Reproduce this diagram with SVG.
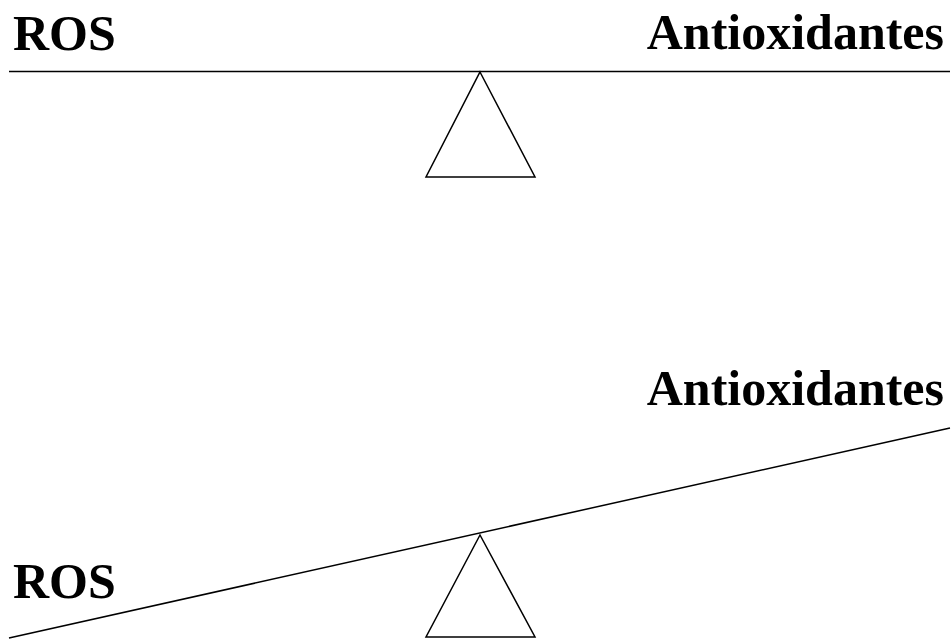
<svg xmlns="http://www.w3.org/2000/svg" width="951" height="640" viewBox="0 0 951 640">
<style>
.t{font-family:"Liberation Serif","Times New Roman",serif;font-weight:bold;font-size:50px;fill:#000}
.s{fill:none;stroke:#000;stroke-width:1.5}
</style>
<rect width="951" height="640" fill="#fff"/>
<g id="top-balance">
<text class="t" x="13" y="50">ROS</text>
<text class="t" x="944" y="49" text-anchor="end">Antioxidantes</text>
<line class="s" x1="9" y1="71.5" x2="950" y2="71.5"/>
<polygon class="s" points="480,72 535,177 426,177"/>
</g>
<g id="bottom-balance">
<text class="t" x="13" y="598">ROS</text>
<text class="t" x="944" y="405" text-anchor="end">Antioxidantes</text>
<line class="s" x1="9" y1="638" x2="950" y2="428"/>
<polygon class="s" points="480,535 535,637 426,637"/>
</g>
</svg>
